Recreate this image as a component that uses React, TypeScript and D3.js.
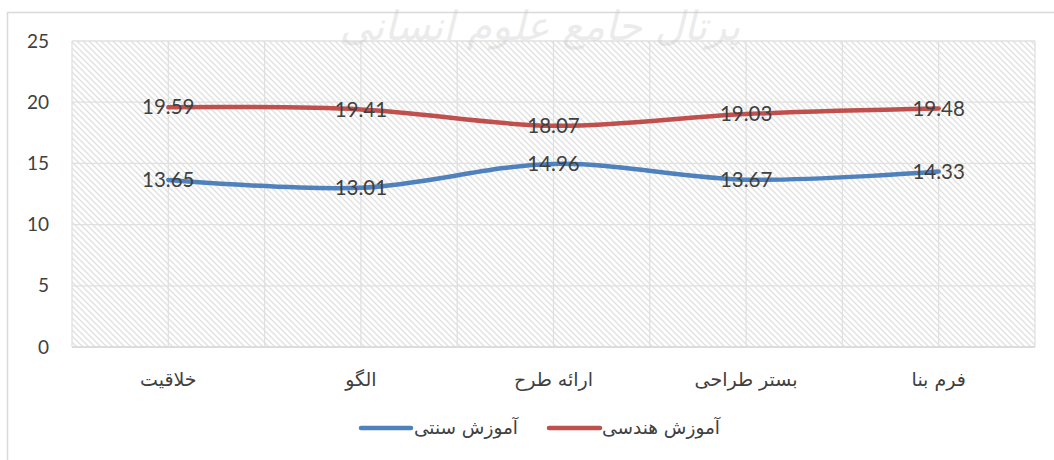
import React from "react";
import * as d3 from "d3";

const categories = ["خلاقیت", "الگو", "ارائه طرح", "بستر طراحی", "فرم بنا"];
const engineering = [19.59, 19.41, 18.07, 19.03, 19.48];
const traditional = [13.65, 13.01, 14.96, 13.67, 14.33];
const yTicks = [0, 5, 10, 15, 20, 25];
const seriesNames = ["آموزش هندسی", "آموزش سنتی"];

const W = 1054;
const H = 460;
const left = 72;
const right = 1035;
const top = 41;
const bottom = 347;

export default function App() {
  const x = d3.scaleBand<string>().domain(categories).range([left, right]);
  const y = d3.scaleLinear().domain([0, 25]).range([bottom, top]);
  const bw = x.bandwidth();
  const line = d3
    .line<number>()
    .x((_, i) => (x(categories[i]) as number) + bw / 2)
    .y((d) => y(d))
    .curve(d3.curveCatmullRom.alpha(0.5));

  const vLines: number[] = [];
  categories.forEach((c) => {
    vLines.push(x(c) as number);
    vLines.push((x(c) as number) + bw / 2);
  });
  vLines.push(right);

  const series = [
    { name: seriesNames[0], values: engineering, color: "#C0504D" },
    { name: seriesNames[1], values: traditional, color: "#4F81BD" },
  ];

  const numFont = "Lato, 'Open Sans', sans-serif";
  const faFont = "'DejaVu Sans', sans-serif";

  return (
    <svg
      width={W}
      height={H}
      style={{ position: "absolute", left: 0, top: 0, background: "#fff" }}
    >
      <defs>
        <pattern id="hatch" width="6" height="6" patternUnits="userSpaceOnUse">
          <rect width="6" height="6" fill="#fff" />
          <path d="M-1,-1 L7,7 M-1,5 L1,7 M5,-1 L7,1" stroke="#e0e0e0" strokeWidth="1.3" />
        </pattern>
      </defs>
      <rect x={7.5} y={12.5} width={1060} height={460} fill="#fff" stroke="#d9d9d9" strokeWidth={1.5} />
      <rect x={left} y={top} width={right - left} height={bottom - top} fill="url(#hatch)" />
      {yTicks.map((t) => (
        <line key={"h" + t} x1={left} x2={right} y1={y(t)} y2={y(t)} stroke="#e0e0e0" strokeWidth={1.3} />
      ))}
      {vLines.map((v, i) => (
        <line key={"v" + i} x1={v} x2={v} y1={top} y2={bottom} stroke="#e0e0e0" strokeWidth={1.3} />
      ))}
      <line x1={left} x2={right} y1={bottom} y2={bottom} stroke="#d9d9d9" strokeWidth={1.5} />
      <text
        x={540}
        y={40}
        textAnchor="middle"
        fontFamily={faFont}
        fontSize={40}
        fontStyle="italic"
        fill="#c8c8c8"
        opacity={0.35}
      >
        پرتال جامع علوم انسانی
      </text>
      {yTicks.map((t) => (
        <text
          key={"yl" + t}
          x={49}
          y={y(t)}
          dy="0.35em"
          textAnchor="end"
          fontFamily={numFont}
          fontSize={19}
          fill="#404040"
        >
          {t}
        </text>
      ))}
      {categories.map((c) => (
        <text
          key={"c" + c}
          x={(x(c) as number) + bw / 2}
          y={379}
          dy="0.35em"
          textAnchor="middle"
          fontFamily={faFont}
          fontSize={19}
          fill="#404040"
        >
          {c}
        </text>
      ))}
      {series.map((s) => (
        <path
          key={s.name}
          d={line(s.values) as string}
          fill="none"
          stroke={s.color}
          strokeWidth={4.5}
          strokeLinecap="round"
        />
      ))}
      {series.map((s) =>
        s.values.map((v, i) => (
          <text
            key={s.name + i}
            x={(x(categories[i]) as number) + bw / 2}
            y={y(v)}
            dy="0.35em"
            textAnchor="middle"
            fontFamily={numFont}
            fontSize={20.5}
            fill="#404040"
          >
            {v.toFixed(2)}
          </text>
        ))
      )}
      <line x1={549} x2={600} y1={428} y2={428} stroke={series[0].color} strokeWidth={4.5} strokeLinecap="round" />
      <text x={720} y={428} dy="0.35em" textAnchor="end" fontFamily={faFont} fontSize={18.5} fill="#404040">
        {series[0].name}
      </text>
      <line x1={361} x2={411} y1={428} y2={428} stroke={series[1].color} strokeWidth={4.5} strokeLinecap="round" />
      <text x={518} y={428} dy="0.35em" textAnchor="end" fontFamily={faFont} fontSize={18.5} fill="#404040">
        {series[1].name}
      </text>
    </svg>
  );
}
